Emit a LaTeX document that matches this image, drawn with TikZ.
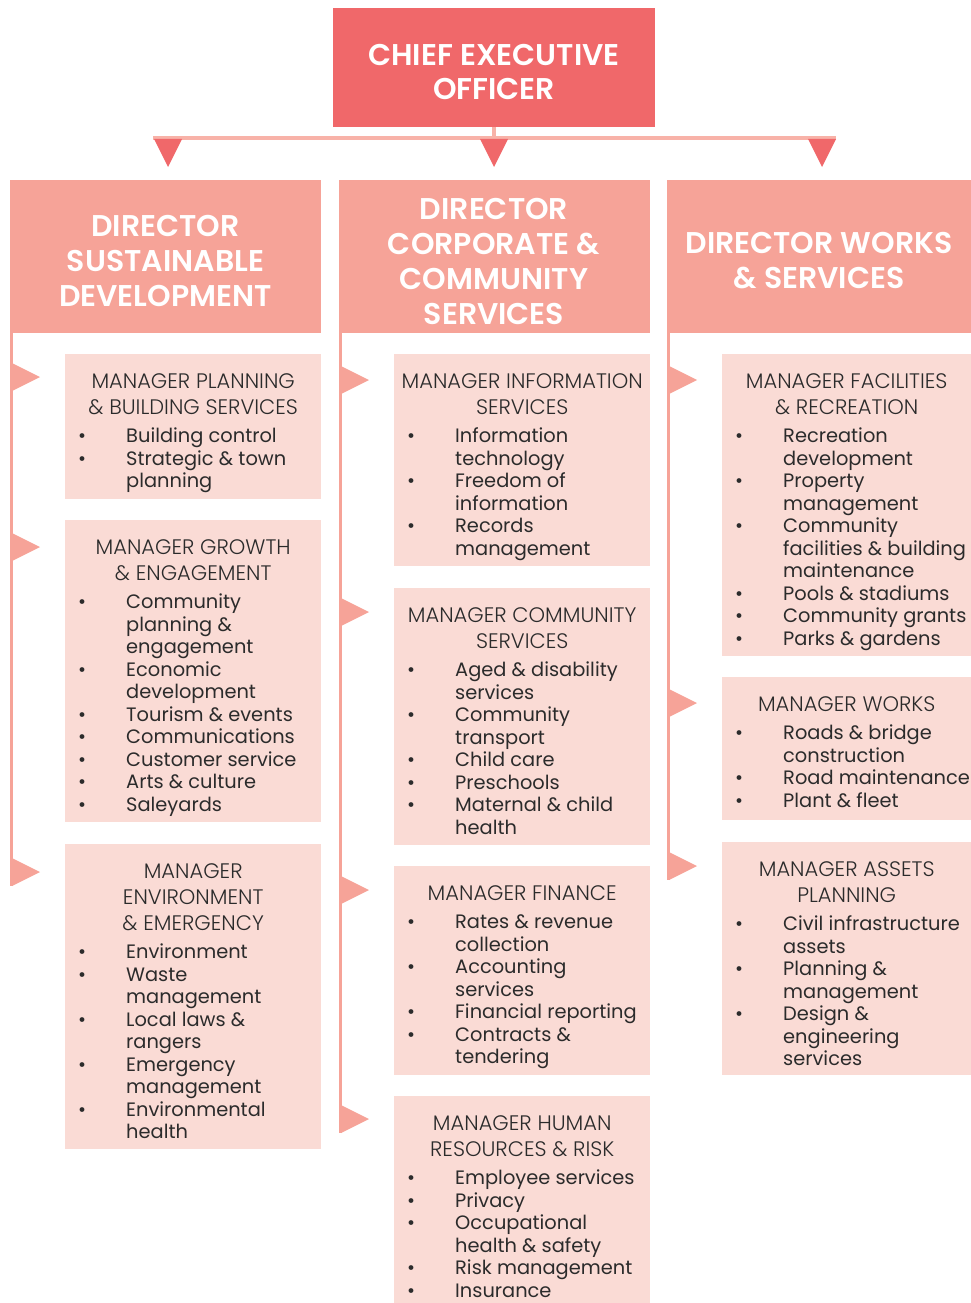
\documentclass[tikz,border=0pt]{standalone}
\usepackage{fontspec}
\setmainfont{Poppins}
\newfontfamily\lightfont{Poppins Light}
\newfontfamily\semifont{Poppins SemiBold}
\usetikzlibrary{calc}

\definecolor{ceored}{HTML}{F0686A}
\definecolor{dirsalmon}{HTML}{F6A398}
\definecolor{mgrpink}{HTML}{FADBD5}
\definecolor{barpink}{HTML}{F8B2A8}
\definecolor{inkgray}{HTML}{2B2B2B}

% manager box contents: width, height, body
\newcommand\mgrbox[3]{\parbox[c][#2pt][t]{#1pt}{\parindent=0pt\color{inkgray}#3}}
\newcommand\mtitle[1]{{\lightfont\fontsize{21}{26}\selectfont\centering\rule{0pt}{34pt}#1\par}\vspace{6pt}\fontsize{19.4}{22.5}\selectfont}
\newcommand\mitem[1]{\par{\let\\\newline\hangindent=61pt\noindent\makebox[61pt][l]{\hspace{13pt}\textbullet}#1\par}}

\tikzset{
  ceobox/.style={fill=ceored, minimum width=322, minimum height=119, inner sep=0pt},
  dirbox/.style={fill=dirsalmon, minimum width=311, minimum height=153, inner sep=0pt},
  headtext/.style={text=white, align=center, inner sep=0pt, font=\semifont\fontsize{30}{35}\selectfont},
  mgr/.style={fill=mgrpink, inner sep=0pt, anchor=north west},
  bar/.style={draw=barpink, line width=3.5pt},
  stem/.style={draw=dirsalmon, line width=3pt},
  downtri/.pic={\fill[ceored] (-14,0) -- (14,0) -- (0,-28) -- cycle;},
  sidetri/.pic={\fill[dirsalmon] (0,-14) -- (28,0) -- (0,14) -- cycle;}
}

\begin{document}
\begin{tikzpicture}[x=1pt,y=1pt,yscale=-1]
\useasboundingbox (0,0) rectangle (971,1303);

% CEO and directors
\node[ceobox] (ceo) at (494,67.5) {};
\node[headtext, font=\semifont\fontsize{30}{34}\selectfont] (ceotext) at ($(ceo.center)+(0,4.5)$) {CHIEF EXECUTIVE\\OFFICER};

\node[dirbox] (dirA) at (165.5,256.5) {};
\node[dirbox] (dirB) at (494,256.5) {};
\node[dirbox, minimum width=305] (dirC) at (819,256.5) {};
\node[headtext] (dirAtext) at ($(dirA.center)+(0,4.5)$) {DIRECTOR\\SUSTAINABLE\\DEVELOPMENT};
\node[headtext] (dirBtext) at ($(dirB.center)+(0,4.5)$) {DIRECTOR\\CORPORATE \&\\COMMUNITY\\SERVICES};
\node[headtext] (dirCtext) at ($(dirC.center)+(0,4.5)$) {DIRECTOR WORKS\\\& SERVICES};

% bar from CEO to directors
\coordinate (barL) at (153,138);
\coordinate (barR) at (836,138);
\draw[bar] (ceo.south) -- (ceo.south |- barL);
\draw[bar] (barL) -- (barR);
\pic at (168,139) {downtri};
\pic at (494,139) {downtri};
\pic at (822,139) {downtri};

% Sustainable development
\node[mgr] (mA1) at (65,354) {\mgrbox{256}{145}{\mtitle{MANAGER PLANNING\\\& BUILDING SERVICES}
  \mitem{Building control}
  \mitem{Strategic \& town\\planning}}};
\node[mgr] (mA2) at (65,520) {\mgrbox{256}{302}{\mtitle{MANAGER GROWTH\\\& ENGAGEMENT}
  \mitem{Community\\planning \&\\engagement}
  \mitem{Economic\\development}
  \mitem{Tourism \& events}
  \mitem{Communications}
  \mitem{Customer service}
  \mitem{Arts \& culture}
  \mitem{Saleyards}}};
\node[mgr] (mA3) at (65,844) {\mgrbox{256}{305}{\mtitle{MANAGER\\ENVIRONMENT\\\& EMERGENCY}
  \mitem{Environment}
  \mitem{Waste\\management}
  \mitem{Local laws \&\\rangers}
  \mitem{Emergency\\management}
  \mitem{Environmental\\health}}};

% Corporate & community services
\node[mgr] (mB1) at (394,354) {\mgrbox{256}{212}{\mtitle{MANAGER INFORMATION\\SERVICES}
  \mitem{Information\\technology}
  \mitem{Freedom of\\information}
  \mitem{Records\\management}}};
\node[mgr] (mB2) at (394,588) {\mgrbox{256}{257}{\mtitle{MANAGER COMMUNITY\\SERVICES}
  \mitem{Aged \& disability\\services}
  \mitem{Community\\transport}
  \mitem{Child care}
  \mitem{Preschools}
  \mitem{Maternal \& child\\health}}};
\node[mgr] (mB3) at (394,866) {\mgrbox{256}{209}{\mtitle{MANAGER FINANCE}
  \mitem{Rates \& revenue\\collection}
  \mitem{Accounting\\services}
  \mitem{Financial reporting}
  \mitem{Contracts \&\\tendering}}};
\node[mgr] (mB4) at (394,1096) {\mgrbox{256}{207}{\mtitle{MANAGER HUMAN\\RESOURCES \& RISK}
  \mitem{Employee services}
  \mitem{Privacy}
  \mitem{Occupational\\health \& safety}
  \mitem{Risk management}
  \mitem{Insurance}}};

% Works & services
\node[mgr] (mC1) at (722,354) {\mgrbox{249}{302}{\mtitle{MANAGER FACILITIES\\\& RECREATION}
  \mitem{Recreation\\development}
  \mitem{Property\\management}
  \mitem{Community\\facilities \& building\\maintenance}
  \mitem{Pools \& stadiums}
  \mitem{Community grants}
  \mitem{Parks \& gardens}}};
\node[mgr] (mC2) at (722,677) {\mgrbox{249}{143}{\mtitle{MANAGER WORKS}
  \mitem{Roads \& bridge\\construction}
  \mitem{Road maintenance}
  \mitem{Plant \& fleet}}};
\node[mgr] (mC3) at (722,842) {\mgrbox{249}{233}{\mtitle{MANAGER ASSETS\\PLANNING}
  \mitem{Civil infrastructure\\assets}
  \mitem{Planning \&\\management}
  \mitem{Design \&\\engineering\\services}}};

% stems down each column
\coordinate (stemA) at (11.5,886);
\coordinate (stemB) at (340.5,1133);
\coordinate (stemC) at (668.5,880);
\draw[stem] (stemA |- dirA.south) -- (stemA);
\draw[stem] (stemB |- dirB.south) -- (stemB);
\draw[stem] (stemC |- dirC.south) -- (stemC);

% side markers
\pic at ($(mA1.north west)+(-53,23)$) {sidetri};
\pic at ($(mA2.north west)+(-53,27)$) {sidetri};
\pic at ($(mA3.north west)+(-53,28)$) {sidetri};
\pic at ($(mB1.north west)+(-53,26)$) {sidetri};
\pic at ($(mB2.north west)+(-53,24)$) {sidetri};
\pic at ($(mB3.north west)+(-53,24)$) {sidetri};
\pic at ($(mB4.north west)+(-53,23)$) {sidetri};
\pic at ($(mC1.north west)+(-53,26)$) {sidetri};
\pic at ($(mC2.north west)+(-53,26)$) {sidetri};
\pic at ($(mC3.north west)+(-53,24)$) {sidetri};

\end{tikzpicture}
\end{document}
